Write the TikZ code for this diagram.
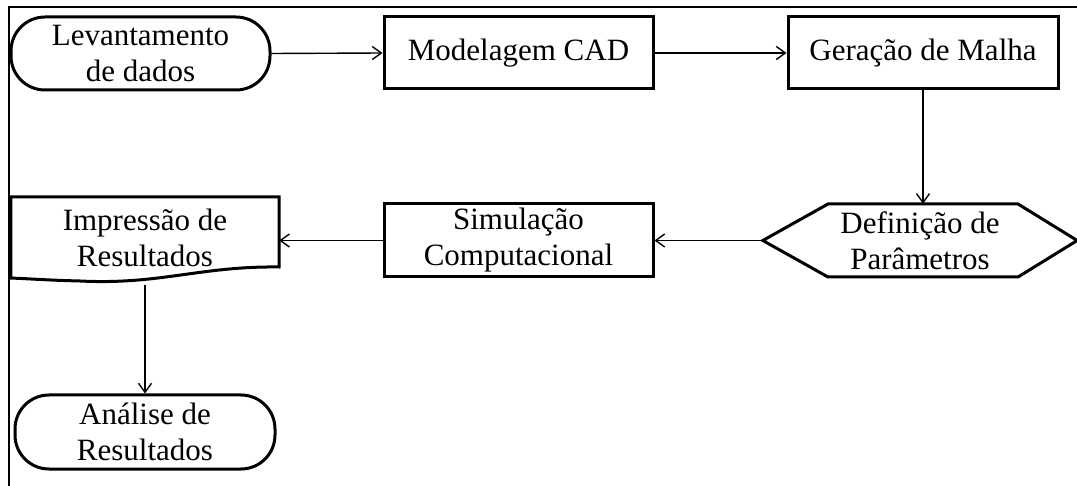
\documentclass[tikz,border=0pt]{standalone}
\usepackage{fontspec}
\setmainfont{Liberation Serif}
\usetikzlibrary{arrows.meta}
\begin{document}
\begin{tikzpicture}[x=1pt,y=-1pt,
  every node/.style={font=\fontsize{31}{36}\selectfont, align=center, inner sep=0pt},
  boxstyle/.style={draw, line width=3pt, rectangle, minimum width=#1, minimum height=72pt},
  stadium/.style={draw, line width=3pt, rectangle, rounded corners=34pt, minimum width=#1, minimum height=73pt},
  plain/.style={minimum width=#1, minimum height=73pt},
  conn/.style={line width=1.4pt, -{Straight Barb[length=9pt,width=13pt,line width=1.4pt]}},
  frame/.style={line width=2pt}
]
\useasboundingbox (0,0) rectangle (1077,486);
% frame
\coordinate (fb) at (9,486);
\coordinate (fc) at (9,7);
\coordinate (fr) at (1077,7);
\draw[frame] (fb) -- (fc) -- (fr);

% nodes
\node[stadium=259pt] (lev) at (140.5,53.5) {Levantamento\\de dados};
\node[boxstyle=269pt] (mod) at (518.5,53) {Modelagem CAD};
\node[boxstyle=270pt] (gen) at (923,53) {Geração de Malha};
\node[plain=314pt] (def) at (920,240.5) {Definição de\\Parâmetros};
\draw[line width=3pt, line join=miter]
  (828,204) -- (1018,204) -- (def.east) -- (1018,277) -- (828,277) -- (def.west) -- cycle;
\node[boxstyle=269pt, minimum height=73pt] (sim) at (518.5,240.5) {Simulação\\Computacional};
\node[plain=268pt, minimum height=81pt] (imp) at (145,237.5) {Impressão de\\Resultados};
\draw[line width=3pt]
  (imp.south west) |- (imp.north east) -- (279,267)
  .. controls (200,266) and (160,285) .. (80,281)
  .. controls (40,280) and (20,278) .. (imp.south west) -- cycle;
\coordinate (impout) at (145,285);
\node[stadium=260pt, minimum height=74pt] (ana) at (145,432) {Análise de\\Resultados};

% connectors
\draw[conn] (lev.east) -- (mod.west);
\draw[conn] (mod.east) -- (gen.west);
\draw[conn] (gen.south) -- (gen.south |- def.north);
\draw[conn] (def.west) -- (sim.east);
\draw[conn] (sim.west) -- (sim.west -| imp.east);
\draw[conn] (impout) -- (ana.north);
\end{tikzpicture}
\end{document}
